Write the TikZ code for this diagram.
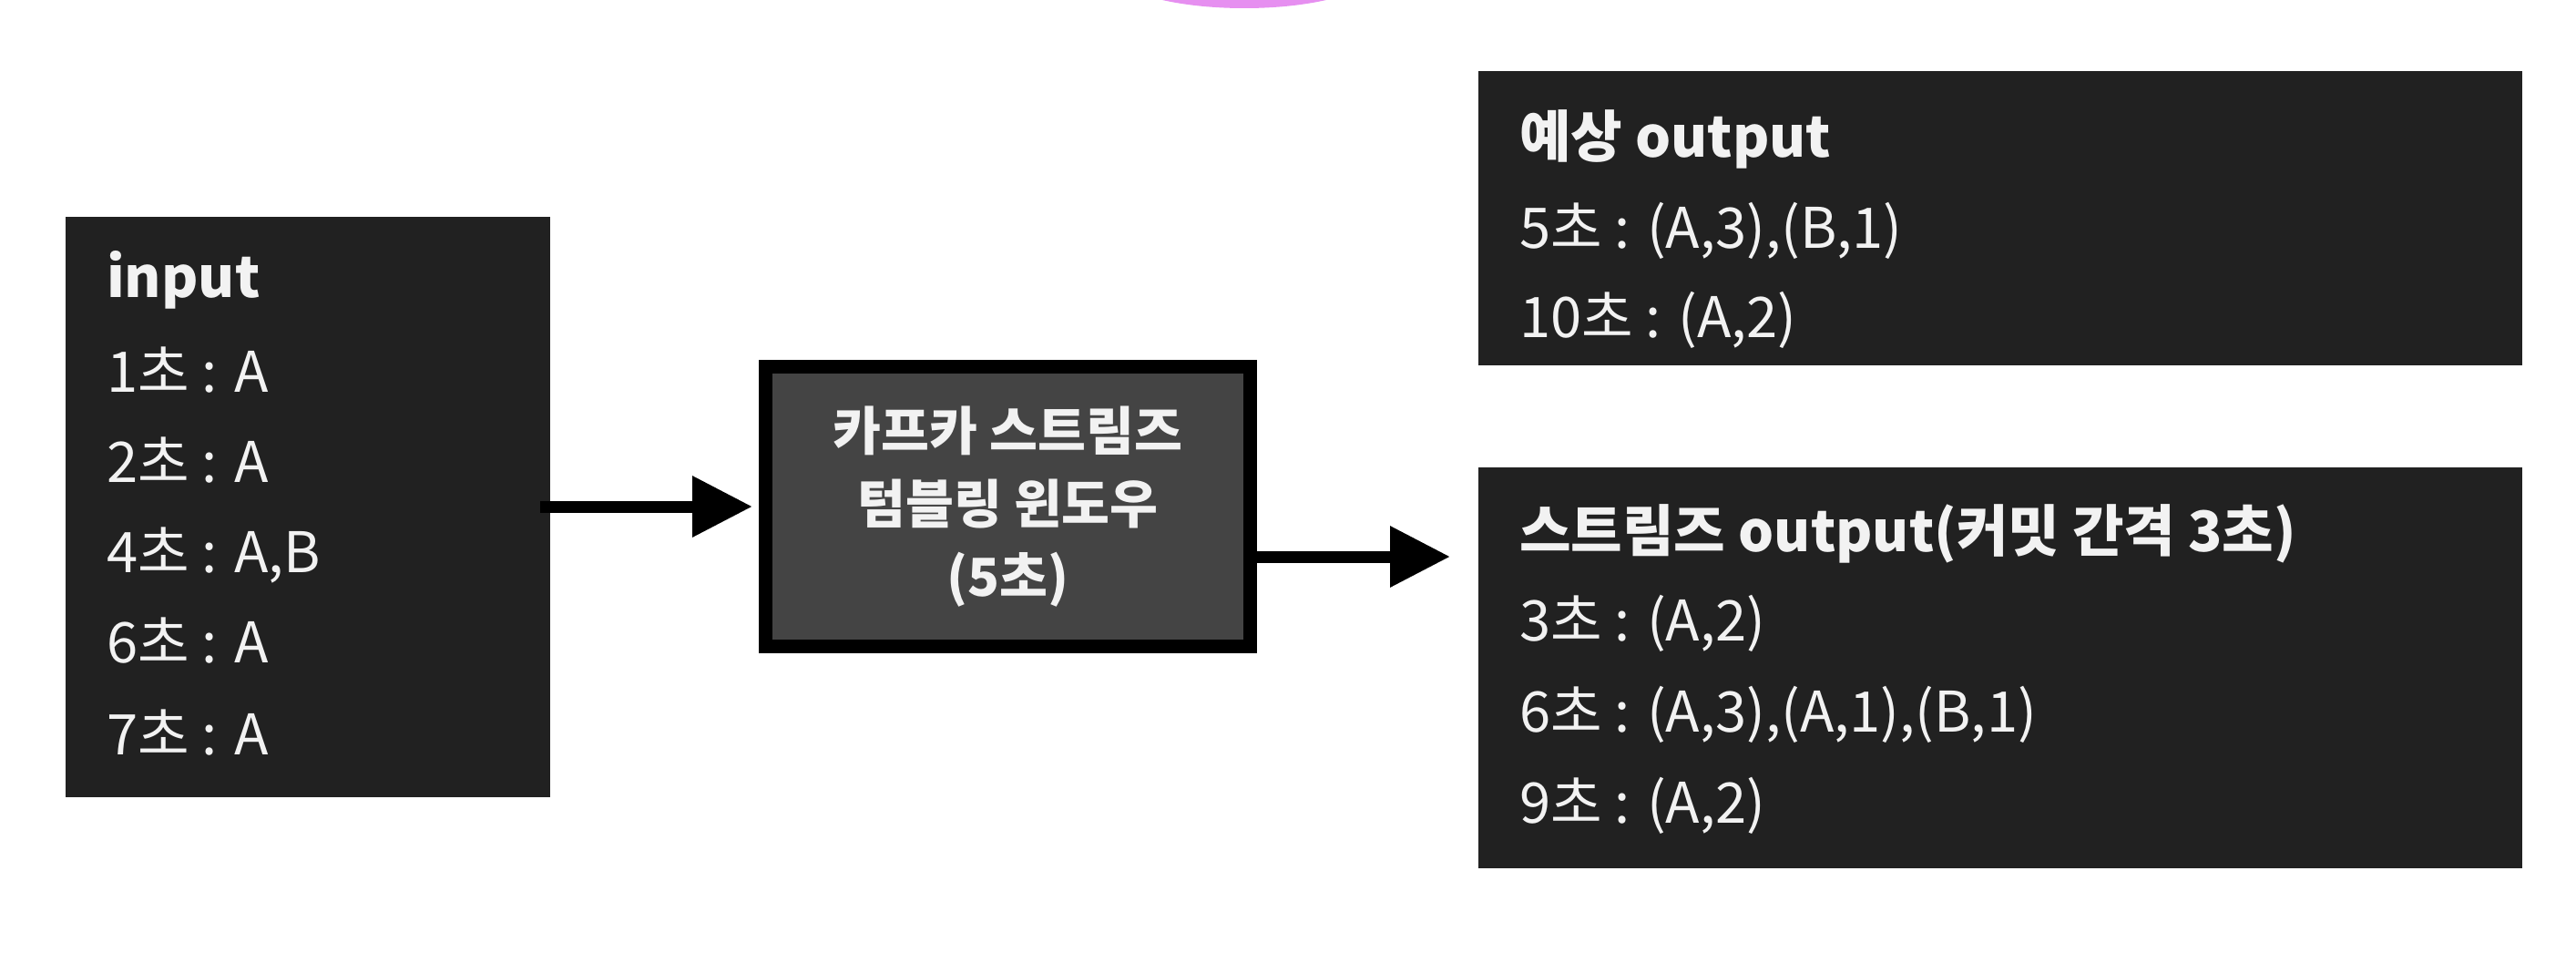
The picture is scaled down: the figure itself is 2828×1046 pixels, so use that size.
\documentclass[tikz,border=0pt]{standalone}
\usepackage{fontspec}
\setmainfont{Noto Sans CJK KR}
\usetikzlibrary{arrows.meta}
\definecolor{boxbg}{HTML}{212121}
\definecolor{midbg}{HTML}{444444}
\definecolor{txtc}{HTML}{F2F2F2}
\definecolor{blob}{HTML}{E68FF0}
\tikzset{
  darkbox/.style={fill=boxbg, draw=none, inner sep=0pt, anchor=north west},
  midbox/.style={fill=midbg, draw=black, line width=15pt, inner sep=0pt,
    minimum width=532pt, minimum height=307pt, align=center, text=txtc,
    font=\fontsize{57.5}{80}\selectfont\bfseries},
  line/.style={inner sep=0pt, anchor=base west, text=txtc, font=\fontsize{61.5}{72}\selectfont},
  head/.style={line, font=\fontsize{61.5}{72}\selectfont\bfseries},
  arr/.style={line width=13pt, -{Triangle[length=66pt,width=64pt]}}
}
\begin{document}
\begin{tikzpicture}[x=1pt,y=-1pt]
\useasboundingbox (0,0) rectangle (2828,1046);
\begin{scope}
\clip (0,0) rectangle (2828,1046);
\fill[blob] (1366,-36) ellipse [x radius=150, y radius=45];
\end{scope}
% input box
\node[darkbox, minimum width=532pt, minimum height=637pt] (inbox) at (72,238) {};
\node[head] (in0) at (117,326) {input};
\node[line] (in1) at (117,430) {1초 : A};
\node[line] (in2) at (117,529) {2초 : A};
\node[line] (in3) at (117,628) {4초 : A,B};
\node[line] (in4) at (117,727) {6초 : A};
\node[line] (in5) at (117,828) {7초 : A};
% window box
\node[midbox] (win) at (1106.5,556) {카프카 스트림즈\\텀블링 윈도우\\(5초)};
% expected output
\node[darkbox, minimum width=1146pt, minimum height=323pt] (expbox) at (1623,78) {};
\node[head] (ex0) at (1668,172) {예상 output};
\node[line] (ex1) at (1668,272) {5초 : (A,3),(B,1)};
\node[line] (ex2) at (1668,370) {10초 : (A,2)};
% streams output
\node[darkbox, minimum width=1146pt, minimum height=440pt] (strbox) at (1623,513) {};
\node[head] (st0) at (1668,605) {스트림즈 output(커밋 간격 3초)};
\node[line] (st1) at (1668,703) {3초 : (A,2)};
\node[line] (st2) at (1668,803) {6초 : (A,3),(A,1),(B,1)};
\node[line] (st3) at (1668,903) {9초 : (A,2)};
% arrows
\draw[arr] ([xshift=-11pt]inbox.east |- win.west) -- ([xshift=-7pt]win.west);
\draw[arr] ([xshift=-7.5pt,yshift=-55pt]win.east) -- ([xshift=-31pt,yshift=-55pt]strbox.west |- win.east);
\end{tikzpicture}
\end{document}
